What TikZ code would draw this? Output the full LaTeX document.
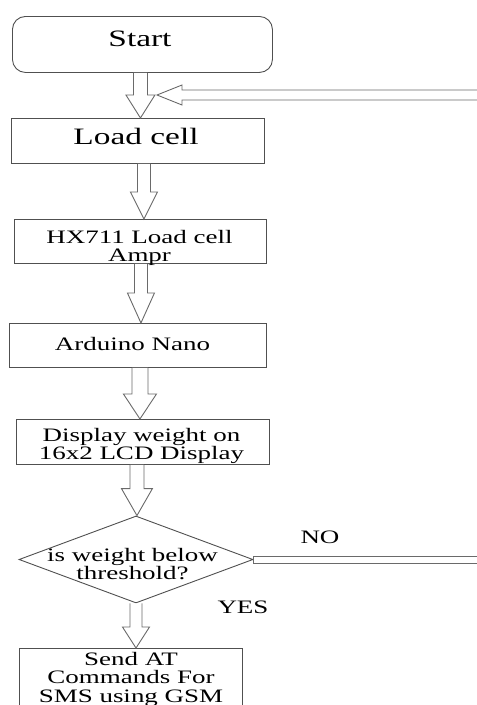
\documentclass[tikz,border=0pt]{standalone}
\usepackage{fontspec}
\setmainfont{Liberation Serif}[FakeStretch=1.42]
\usetikzlibrary{calc,shapes.geometric}
\definecolor{boxc}{HTML}{505050}
\definecolor{arrc}{HTML}{6A6A6A}
\tikzset{
  boxn/.style={draw=boxc, line width=0.9pt, inner sep=0pt, anchor=north west},
  txt/.style={inner sep=0pt, align=center, text=black, font=\fontsize{19}{18.5}\selectfont},
  bigtxt/.style={inner sep=0pt, text=black, font=\fontsize{23.5}{24}\selectfont},
  blockarr/.style={draw=arrc, line width=0.9pt, fill=white, line join=miter}
}
% #1 source point, #2 target point, #3 shaft half width, #4 head half width, #5 head length
\newcommand\blockdown[5]{%
  \draw[blockarr] let \p1=#1, \p2=#2 in
    (\x1-#3,\y1) -- (\x1-#3,\y2+#5) -- (\x1-#4,\y2+#5) -- (\x1,\y2)
    -- (\x1+#4,\y2+#5) -- (\x1+#3,\y2+#5) -- (\x1+#3,\y1);}
\begin{document}
\begin{tikzpicture}[x=1pt,y=-1pt]
\useasboundingbox[fill=white] (0,0) rectangle (477,705);

% boxes
\node[boxn, rounded corners=13pt, minimum width=260pt, minimum height=56pt] (start) at (12,16) {};
\node[boxn, minimum width=253pt, minimum height=45pt] (load) at (11,118) {};
\node[boxn, minimum width=252pt, minimum height=44pt] (hx) at (14,219) {};
\node[boxn, minimum width=257pt, minimum height=44pt] (ard) at (9,323) {};
\node[boxn, minimum width=253pt, minimum height=45pt] (disp) at (16,419) {};
\node[draw=boxc, line width=0.9pt, diamond, inner sep=0pt, minimum width=234pt, minimum height=87pt] (dec) at (136,559.5) {};
\node[boxn, minimum width=223pt, minimum height=64pt] (sms) at (19,648) {};

% texts
\node[bigtxt] (startT) at (140,39) {Start};
\node[bigtxt] (loadT) at (136,136.3) {Load cell};
\node[txt] (hxT) at (139.5,248) {HX711 Load cell\\Ampr};
\node[txt] (ardT) at (132.5,344) {Arduino Nano};
\node[txt] (dispT) at (141.5,446) {Display weight on\\16x2 LCD Display};
\node[txt] (decT) at (132.5,564) {is weight below\\threshold?};
\node[txt] (smsT) at (131,679) {Send AT\\Commands For\\SMS using GSM};
\node[txt] (noT) at (320,537.5) {NO};
\node[txt] (yesT) at (243,607) {YES};

% vertical block arrows
\blockdown{($(start.south)+(-2,0)$)}{(load.north)}{7pt}{14.5pt}{23pt}
\blockdown{($(load.south)+(6,0)$)}{(hx.north)}{6.5pt}{13.5pt}{27pt}
\blockdown{($(hx.south)+(0.5,0)$)}{(ard.north)}{6.5pt}{13.5pt}{30pt}
\blockdown{($(ard.south)+(2,0)$)}{(disp.north)}{8pt}{16.5pt}{25pt}
\blockdown{($(disp.south)+(-6,0)$)}{(dec.north)}{7pt}{15.5pt}{27pt}
\blockdown{(dec.south)}{(sms.north)}{6pt}{13.5pt}{21pt}

% feedback arrow into the flow
\coordinate (fbend) at (482,95);
\coordinate (fbtip) at (157,95);
\draw[blockarr] let \p1=(fbend), \p2=(fbtip) in
  (\x1,\y1+5pt) -- (\x2+25pt,\y1+5pt) -- (\x2+25pt,\y1+10pt) -- (\x2,\y1)
  -- (\x2+25pt,\y1-10pt) -- (\x2+25pt,\y1-5pt) -- (\x1,\y1-5pt);

% NO branch
\coordinate (noend) at (482,559.5);
\draw[blockarr] let \p1=(dec.east), \p2=(noend) in
  (\x2,\y1+3.5pt) -- (\x1,\y1+3.5pt) -- (\x1,\y1-3.5pt) -- (\x2,\y1-3.5pt);
\end{tikzpicture}
\end{document}
